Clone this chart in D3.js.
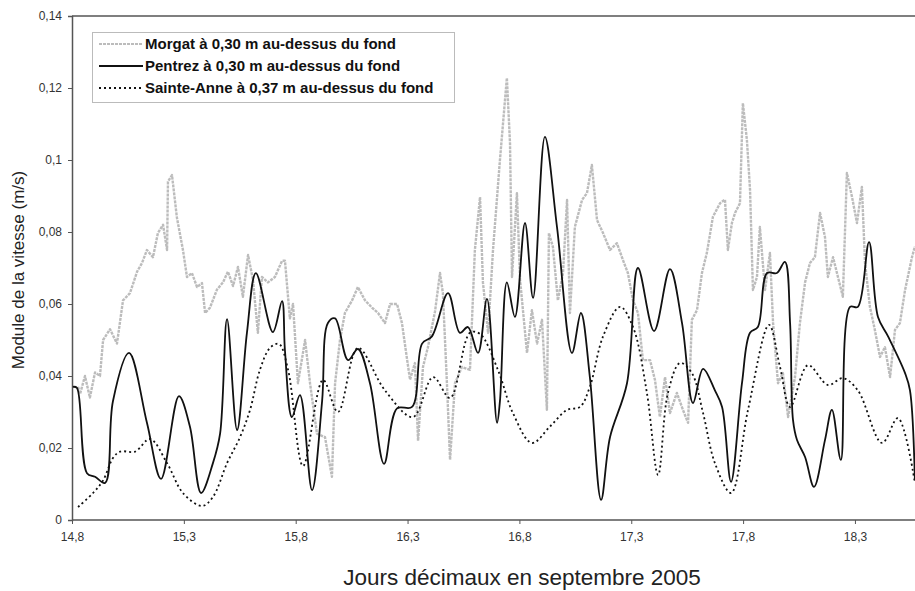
<!DOCTYPE html>
<html><head><meta charset="utf-8">
<script src="https://cdn.jsdelivr.net/npm/d3@7"></script>
<style>
html,body{margin:0;padding:0;background:#fff;}
svg{display:block;font-family:"Liberation Sans",Arial,sans-serif;}
</style></head>
<body>
<svg id="c" width="915" height="591"></svg>
<script>
// ---- data ----
const seriesNames = ["Morgat à 0,30 m au-dessus du fond","Pentrez à 0,30 m au-dessus du fond","Sainte-Anne à 0,37 m au-dessus du fond"];
const xTicks = [14.8,15.3,15.8,16.3,16.8,17.3,17.8,18.3];
const yTicks = [0,0.02,0.04,0.06,0.08,0.1,0.12,0.14];

const morgatDays = [14.827,14.836,14.858,14.880,14.903,14.925,14.939,14.970,15.001,15.028,15.059,15.091,15.113,15.135,15.162,15.184,15.207,15.225,15.229,15.247,15.269,15.296,15.314,15.336,15.359,15.381,15.395,15.417,15.448,15.475,15.497,15.520,15.542,15.564,15.587,15.609,15.631,15.649,15.676,15.707,15.739,15.752,15.774,15.788,15.810,15.842,15.864,15.895,15.931,15.962,15.976,15.998,16.020,16.052,16.078,16.110,16.141,16.168,16.199,16.222,16.253,16.275,16.297,16.311,16.333,16.347,16.369,16.391,16.423,16.445,16.458,16.476,16.490,16.512,16.543,16.579,16.601,16.624,16.637,16.660,16.682,16.713,16.744,16.758,16.767,16.789,16.803,16.834,16.856,16.879,16.901,16.923,16.932,16.950,16.972,16.995,17.013,17.026,17.048,17.080,17.102,17.124,17.147,17.174,17.205,17.236,17.263,17.285,17.308,17.330,17.352,17.384,17.406,17.428,17.451,17.473,17.504,17.531,17.554,17.571,17.594,17.616,17.638,17.665,17.697,17.719,17.732,17.750,17.764,17.786,17.799,17.817,17.831,17.844,17.862,17.875,17.898,17.920,17.934,17.956,17.978,18.001,18.032,18.054,18.077,18.099,18.121,18.144,18.166,18.179,18.202,18.224,18.246,18.264,18.287,18.309,18.331,18.345,18.367,18.389,18.412,18.434,18.457,18.479,18.501,18.524,18.555,18.568];
const morgatSpeed = [0.037,0.035,0.040,0.034,0.041,0.040,0.050,0.053,0.049,0.061,0.063,0.069,0.0714,0.075,0.073,0.0797,0.082,0.075,0.094,0.0958,0.084,0.075,0.0675,0.0686,0.0647,0.0658,0.0575,0.059,0.064,0.066,0.069,0.065,0.0703,0.062,0.0736,0.0667,0.052,0.0675,0.066,0.0675,0.072,0.072,0.056,0.060,0.038,0.050,0.038,0.024,0.023,0.012,0.038,0.050,0.0575,0.061,0.0647,0.061,0.059,0.0575,0.0547,0.060,0.060,0.0547,0.045,0.039,0.0436,0.022,0.0425,0.048,0.058,0.0686,0.063,0.038,0.0167,0.038,0.0425,0.0417,0.075,0.0897,0.066,0.052,0.075,0.100,0.1228,0.1047,0.0675,0.0908,0.0667,0.0464,0.0583,0.049,0.0556,0.0306,0.0797,0.0758,0.061,0.0686,0.0889,0.0575,0.0814,0.0889,0.0908,0.0986,0.0833,0.0797,0.075,0.0769,0.0722,0.0686,0.061,0.0575,0.0444,0.0444,0.0389,0.0286,0.0397,0.0297,0.0353,0.0306,0.027,0.0556,0.0583,0.0686,0.0742,0.0842,0.088,0.089,0.075,0.0825,0.0853,0.088,0.1158,0.1056,0.0917,0.0639,0.0675,0.0814,0.0639,0.0742,0.0547,0.038,0.0408,0.0286,0.0397,0.0547,0.066,0.0714,0.073,0.0853,0.0786,0.0675,0.073,0.0675,0.062,0.0964,0.0897,0.0825,0.0925,0.0714,0.0592,0.0528,0.0453,0.048,0.0397,0.0528,0.0547,0.0639,0.073,0.076];

const pentrezDays = [14.804,14.822,14.867,14.903,14.948,14.983,15.055,15.135,15.198,15.278,15.327,15.377,15.430,15.462,15.493,15.538,15.582,15.622,15.698,15.739,15.752,15.783,15.819,15.873,15.918,15.944,15.976,16.034,16.078,16.132,16.195,16.253,16.320,16.365,16.409,16.481,16.534,16.570,16.615,16.655,16.700,16.713,16.744,16.780,16.825,16.861,16.914,16.968,17.035,17.075,17.115,17.165,17.205,17.281,17.330,17.402,17.473,17.527,17.576,17.621,17.674,17.706,17.746,17.795,17.831,17.866,17.907,17.951,17.987,18.010,18.023,18.041,18.077,18.117,18.166,18.197,18.237,18.278,18.313,18.363,18.403,18.448,18.524,18.546,18.568];
const pentrezSpeed = [0.037,0.0367,0.013,0.012,0.0103,0.033,0.0464,0.027,0.0114,0.0344,0.026,0.0075,0.0158,0.024,0.0558,0.025,0.052,0.0686,0.0522,0.0608,0.047,0.0286,0.0347,0.0083,0.033,0.0547,0.056,0.0444,0.0475,0.038,0.0156,0.031,0.0314,0.049,0.051,0.063,0.052,0.0536,0.0464,0.0614,0.027,0.033,0.066,0.0564,0.0825,0.0617,0.1064,0.0814,0.0464,0.0575,0.0397,0.0056,0.023,0.038,0.070,0.0525,0.0697,0.0547,0.0325,0.042,0.036,0.0314,0.0106,0.038,0.052,0.0536,0.0686,0.0686,0.0717,0.0547,0.0278,0.0222,0.0175,0.0092,0.0222,0.0306,0.0167,0.0592,0.0592,0.0772,0.0564,0.051,0.0408,0.036,0.011];

const sainteAnneDays = [14.827,14.894,14.939,14.983,15.015,15.082,15.149,15.225,15.296,15.381,15.430,15.493,15.551,15.596,15.640,15.685,15.725,15.766,15.833,15.922,15.989,16.078,16.199,16.324,16.414,16.490,16.579,16.624,16.704,16.771,16.856,16.937,17.013,17.071,17.115,17.174,17.250,17.308,17.370,17.420,17.464,17.518,17.571,17.621,17.674,17.746,17.822,17.916,17.965,18.010,18.090,18.179,18.246,18.313,18.421,18.492,18.568];
const sainteAnneSpeed = [0.0036,0.0075,0.011,0.0172,0.019,0.019,0.0225,0.0158,0.0075,0.0039,0.0064,0.0158,0.023,0.0306,0.0417,0.0478,0.0489,0.0417,0.015,0.0389,0.030,0.0478,0.036,0.0286,0.0397,0.0339,0.052,0.0517,0.0417,0.0297,0.0214,0.026,0.0306,0.0314,0.037,0.051,0.0592,0.0536,0.0353,0.0125,0.0353,0.0436,0.0408,0.0297,0.0158,0.0075,0.0306,0.0542,0.0425,0.0314,0.043,0.0375,0.0394,0.036,0.0214,0.0283,0.0103];

// ---- chart ----
const svg = d3.select("#c");
const x = d3.scaleLinear().domain([14.8, 18.8]).range([72, 966.8]);
const y = d3.scaleLinear().domain([0, 0.14]).range([520, 16]);
const fmt = v => String(v).replace(".", ",");
const axisColor = "#555";

// frame (top border)
svg.append("line").attr("x1", 72).attr("x2", 915).attr("y1", y(0.14)).attr("y2", y(0.14))
  .attr("stroke", axisColor).attr("stroke-width", 1.5);

const gx = svg.append("g").attr("transform", `translate(0,${y(0)})`)
  .call(d3.axisBottom(x).tickValues(xTicks).tickFormat(fmt).tickSize(4).tickPadding(8));
const gy = svg.append("g").attr("transform", `translate(${x(14.8)},0)`)
  .call(d3.axisLeft(y).tickValues(yTicks).tickFormat(fmt).tickSize(4).tickPadding(6));
[gx, gy].forEach(g => {
  g.select(".domain").attr("stroke", axisColor).attr("stroke-width", 1.5);
  g.selectAll(".tick line").attr("stroke", axisColor);
  g.selectAll(".tick text").attr("fill", "#333").attr("font-size", 12)
    .attr("font-family", "Liberation Sans, Arial, sans-serif");
});
gx.select(".domain").attr("d", `M72,0H915`);

svg.append("clipPath").attr("id", "pc").append("rect")
  .attr("x", 72).attr("y", 16).attr("width", 843).attr("height", 504);
const plot = svg.append("g").attr("clip-path", "url(#pc)");

const mk = (days, vals) => days.map((d, i) => [d, vals[i]]);
const lineLin = d3.line().x(d => x(d[0])).y(d => y(d[1]));
const lineSmooth = d3.line().x(d => x(d[0])).y(d => y(d[1])).curve(d3.curveCatmullRom.alpha(0.5));

plot.append("path").datum(mk(morgatDays, morgatSpeed)).attr("d", lineLin)
  .attr("fill", "none").attr("stroke", "#bcbcbc").attr("stroke-width", 2.4)
  .attr("stroke-dasharray", "3,1").attr("stroke-linejoin", "round");
plot.append("path").datum(mk(sainteAnneDays, sainteAnneSpeed)).attr("d", lineSmooth)
  .attr("fill", "none").attr("stroke", "#111").attr("stroke-width", 1.8).attr("stroke-dasharray", "2,3");
plot.append("path").datum(mk(pentrezDays, pentrezSpeed)).attr("d", lineSmooth)
  .attr("fill", "none").attr("stroke", "#111").attr("stroke-width", 1.8);

// legend
const lg = svg.append("g");
lg.append("rect").attr("x", 92.5).attr("y", 32.5).attr("width", 362).attr("height", 70)
  .attr("fill", "#fff").attr("stroke", "#bbb").attr("stroke-width", 1);
const legStyles = [
  {stroke: "#bcbcbc", dash: "3,1", w: 2},
  {stroke: "#111", dash: null, w: 1.8},
  {stroke: "#111", dash: "2,3", w: 1.8}
];
seriesNames.forEach((name, i) => {
  const yy = 44 + i * 22;
  lg.append("line").attr("x1", 99).attr("x2", 143).attr("y1", yy).attr("y2", yy)
    .attr("stroke", legStyles[i].stroke).attr("stroke-width", legStyles[i].w)
    .attr("stroke-dasharray", legStyles[i].dash);
  lg.append("text").attr("x", 145).attr("y", yy).attr("dy", "0.35em")
    .attr("font-size", 15).attr("font-weight", "bold").attr("fill", "#111").text(name);
});

// axis titles
svg.append("text").attr("transform", "translate(24,270) rotate(-90)").attr("text-anchor", "middle")
  .attr("font-size", 17).attr("fill", "#222").text("Module de la vitesse (m/s)");
svg.append("text").attr("x", 522).attr("y", 585).attr("text-anchor", "middle")
  .attr("font-size", 22.5).attr("fill", "#222").text("Jours décimaux en septembre 2005");
</script>
</body></html>
